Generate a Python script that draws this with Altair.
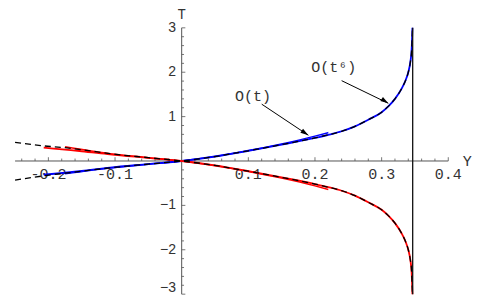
import altair as alt
import pandas as pd

# ---- data ----
# exact solution (black dashed), two branches
exact_y = [-0.25, -0.207, -0.175, -0.15, -0.1075, -0.05, 0.0, 0.05, 0.1, 0.15, 0.2, 0.22,
           0.24, 0.26, 0.28, 0.30, 0.31, 0.32, 0.33, 0.336, 0.340, 0.343, 0.345, 0.3462]
exact_t_up = [-0.43, -0.335, -0.275, -0.23, -0.155, -0.07, 0.0, 0.10, 0.23, 0.37, 0.52, 0.59,
              0.67, 0.78, 0.93, 1.10, 1.23, 1.40, 1.63, 1.82, 2.0, 2.22, 2.5, 3.0]
exact_t_down = [0.42, 0.34, 0.30, 0.255, 0.165, 0.075, 0.0, -0.10, -0.23, -0.37, -0.52, -0.59,
                -0.67, -0.78, -0.93, -1.10, -1.23, -1.40, -1.63, -1.82, -2.0, -2.22, -2.5, -3.0]

# O(t^6) approximation (solid colour)
o6_y = [-0.207, -0.175, -0.15, -0.1075, -0.05, 0.0, 0.05, 0.1, 0.15, 0.2, 0.22,
        0.24, 0.26, 0.28, 0.30, 0.31, 0.32, 0.33, 0.336, 0.340, 0.343, 0.345, 0.3462]
o6_t_blue = [-0.31, -0.265, -0.225, -0.15, -0.07, 0.0, 0.10, 0.23, 0.37, 0.52, 0.59,
             0.67, 0.78, 0.93, 1.10, 1.23, 1.40, 1.63, 1.82, 2.0, 2.22, 2.5, 3.0]
o6_t_red = [0.30, 0.255, 0.22, 0.15, 0.07, 0.0, -0.10, -0.23, -0.37, -0.52, -0.59,
            -0.67, -0.78, -0.93, -1.10, -1.23, -1.40, -1.63, -1.82, -2.0, -2.22, -2.5, -3.0]

# O(t) approximation (solid colour, ends at Y=0.22)
o1_y = [-0.175, -0.1075, -0.05, 0.0, 0.05, 0.1, 0.15, 0.2, 0.22]
o1_t_blue = [-0.29, -0.16, -0.075, 0.0, 0.105, 0.235, 0.385, 0.56, 0.64]
o1_t_red = [0.32, 0.165, 0.075, 0.0, -0.105, -0.235, -0.385, -0.56, -0.64]

asymptote_y = 0.3466
t_range = [-3, 3]
x_axis_range = [-0.25, 0.4]

x_major = [-0.2, -0.1, 0.1, 0.2, 0.3, 0.4]
x_major_labels = ["-0.2", "-0.1", "0.1", "0.2", "0.3", "0.4"]
x_minor = [-0.24, -0.22, -0.18, -0.16, -0.14, -0.12, -0.08, -0.06, -0.04, -0.02,
           0.02, 0.04, 0.06, 0.08, 0.12, 0.14, 0.16, 0.18, 0.22, 0.24, 0.26, 0.28,
           0.32, 0.34, 0.36, 0.38]
t_major = [-2, -1, 1, 2, 3]
t_major_labels = ["\u22122", "\u22121", "1", "2", "3"]
t_bottom = -3
t_bottom_label = "\u22123"
t_minor = [-2.8, -2.6, -2.4, -2.2, -1.8, -1.6, -1.4, -1.2, -0.8, -0.6, -0.4, -0.2,
           0.2, 0.4, 0.6, 0.8, 1.2, 1.4, 1.6, 1.8, 2.2, 2.4, 2.6, 2.8]

# annotations: label position and arrow (start -> tip), in data units
ann_text = ["O(t)", "O(t\u2076)"]
ann_label_y = [0.107, 0.228]
ann_label_t = [1.46, 2.12]
arrow_y0 = [0.1201, 0.2400]
arrow_t0 = [1.28, 1.81]
arrow_y1 = [0.1901, 0.3100]
arrow_t1 = [0.58, 1.30]

# ---- build chart ----
W, H = 475, 287
X_DOM = [-0.2606, 0.4521]
T_DOM = [-3.019, 3.447]
xs = alt.Scale(domain=X_DOM, nice=False, zero=False)
ys = alt.Scale(domain=T_DOM, nice=False, zero=False)
XE = dict(field="Y", type="quantitative", scale=xs, axis=None)
YE = dict(field="T", type="quantitative", scale=ys, axis=None)


def curve(yv, tv):
    return pd.DataFrame({"Y": yv, "T": tv, "i": list(range(len(yv)))})


def line(df, color, width, dash=None):
    kw = dict(color=color, strokeWidth=width, clip=False, interpolate="monotone")
    if dash:
        kw["strokeDash"] = dash
    return alt.Chart(df).mark_line(**kw).encode(
        x=alt.X(**XE), y=alt.Y(**YE), order="i:Q")


layers = []

# axes lines
axes_df = pd.DataFrame({
    "Y": [x_axis_range[0], 0.0],
    "Y2": [x_axis_range[1], 0.0],
    "T": [0.0, t_range[0]],
    "T2": [0.0, t_range[1]],
})
layers.append(alt.Chart(axes_df).mark_rule(color="#555555", strokeWidth=1).encode(
    x=alt.X(**XE), x2="Y2:Q", y=alt.Y(**YE), y2="T2:Q"))

# x ticks (pointing up)
xt = pd.DataFrame({"Y": x_major + x_minor,
                   "T": [0.0] * (len(x_major) + len(x_minor)),
                   "T2": [0.085] * len(x_major) + [0.055] * len(x_minor)})
layers.append(alt.Chart(xt).mark_rule(color="#555555", strokeWidth=0.8).encode(
    x=alt.X(**XE), y=alt.Y(**YE), y2="T2:Q"))

# t ticks (pointing right)
tall = t_major + [t_bottom]
tt = pd.DataFrame({"T": tall + t_minor,
                   "Y": [0.0] * (len(tall) + len(t_minor)),
                   "Y2": [0.0055] * len(tall) + [0.0035] * len(t_minor)})
layers.append(alt.Chart(tt).mark_rule(color="#555555", strokeWidth=0.8).encode(
    x=alt.X(**XE), x2="Y2:Q", y=alt.Y(**YE)))

# tick labels
xl = pd.DataFrame({"Y": x_major, "T": [-0.29] * len(x_major), "lab": x_major_labels})
layers.append(alt.Chart(xl).mark_text(font="Liberation Mono", fontSize=15, color="#333333",
                                      align="center", baseline="middle").encode(
    x=alt.X(**XE), y=alt.Y(**YE), text="lab:N"))
tl = pd.DataFrame({"Y": [-0.0085] * len(t_major), "T": t_major, "lab": t_major_labels})
layers.append(alt.Chart(tl).mark_text(font="Liberation Sans", fontSize=14, color="#333333",
                                      align="right", baseline="middle").encode(
    x=alt.X(**XE), y=alt.Y(**YE), text="lab:N"))
tlb = pd.DataFrame({"Y": [-0.0085], "T": [t_bottom], "lab": [t_bottom_label]})
layers.append(alt.Chart(tlb).mark_text(font="Liberation Sans", fontSize=14, color="#333333",
                                       align="right", baseline="bottom", dy=1).encode(
    x=alt.X(**XE), y=alt.Y(**YE), text="lab:N"))

# axis titles
ttl = pd.DataFrame({"Y": [0.0], "T": [T_DOM[1]], "lab": ["T"]})
layers.append(alt.Chart(ttl).mark_text(font="Liberation Mono", fontSize=14,
                                       color="#333333", align="center",
                                       baseline="top").encode(
    x=alt.X(**XE), y=alt.Y(**YE), text="lab:N"))
ytl = pd.DataFrame({"Y": [0.4285], "T": [0.0], "lab": ["Y"]})
layers.append(alt.Chart(ytl).mark_text(font="Liberation Mono", fontSize=15,
                                       color="#333333", align="center",
                                       baseline="middle").encode(
    x=alt.X(**XE), y=alt.Y(**YE), text="lab:N"))

# curves
layers.append(line(curve(o1_y, o1_t_blue), "#0000ff", 1.5))
layers.append(line(curve(o1_y, o1_t_red), "#ff0000", 1.5))
layers.append(line(curve(o6_y, o6_t_blue), "#0000ff", 1.8))
layers.append(line(curve(o6_y, o6_t_red), "#ff0000", 1.8))
layers.append(line(curve(exact_y, exact_t_up), "#000000", 1.3, [6, 4]))
layers.append(line(curve(exact_y, exact_t_down), "#000000", 1.3, [6, 4]))

# asymptote
asy = pd.DataFrame({"Y": [asymptote_y], "T": [t_range[0]], "T2": [t_range[1]]})
layers.append(alt.Chart(asy).mark_rule(color="#111111", strokeWidth=1.3).encode(
    x=alt.X(**XE), y=alt.Y(**YE), y2="T2:Q"))

# annotations
arr = pd.DataFrame({"Y": arrow_y0, "T": arrow_t0, "Y2": arrow_y1, "T2": arrow_t1})
layers.append(alt.Chart(arr).mark_rule(color="#000000", strokeWidth=1).encode(
    x=alt.X(**XE), x2="Y2:Q", y=alt.Y(**YE), y2="T2:Q"))
heads = pd.DataFrame({"Y": arrow_y1, "T": arrow_t1})
layers.append(alt.Chart(heads).mark_point(shape="M0,0L-0.6,2L0.6,2Z", size=64, filled=True,
                                          color="#000000", opacity=1, angle=123.5).encode(
    x=alt.X(**XE), y=alt.Y(**YE)))
labs = pd.DataFrame({"Y": ann_label_y, "T": ann_label_t, "lab": ann_text})
layers.append(alt.Chart(labs).mark_text(font="Liberation Mono", fontSize=15, color="#333333",
                                        align="center", baseline="middle").encode(
    x=alt.X(**XE), y=alt.Y(**YE), text="lab:N"))

chart = alt.layer(*layers).properties(
    width=W, height=H, padding=0,
    autosize=alt.AutoSizeParams(type="none"),
).configure_view(stroke=None)

chart.save("out.html", embed_options={"renderer": "svg", "actions": False})
